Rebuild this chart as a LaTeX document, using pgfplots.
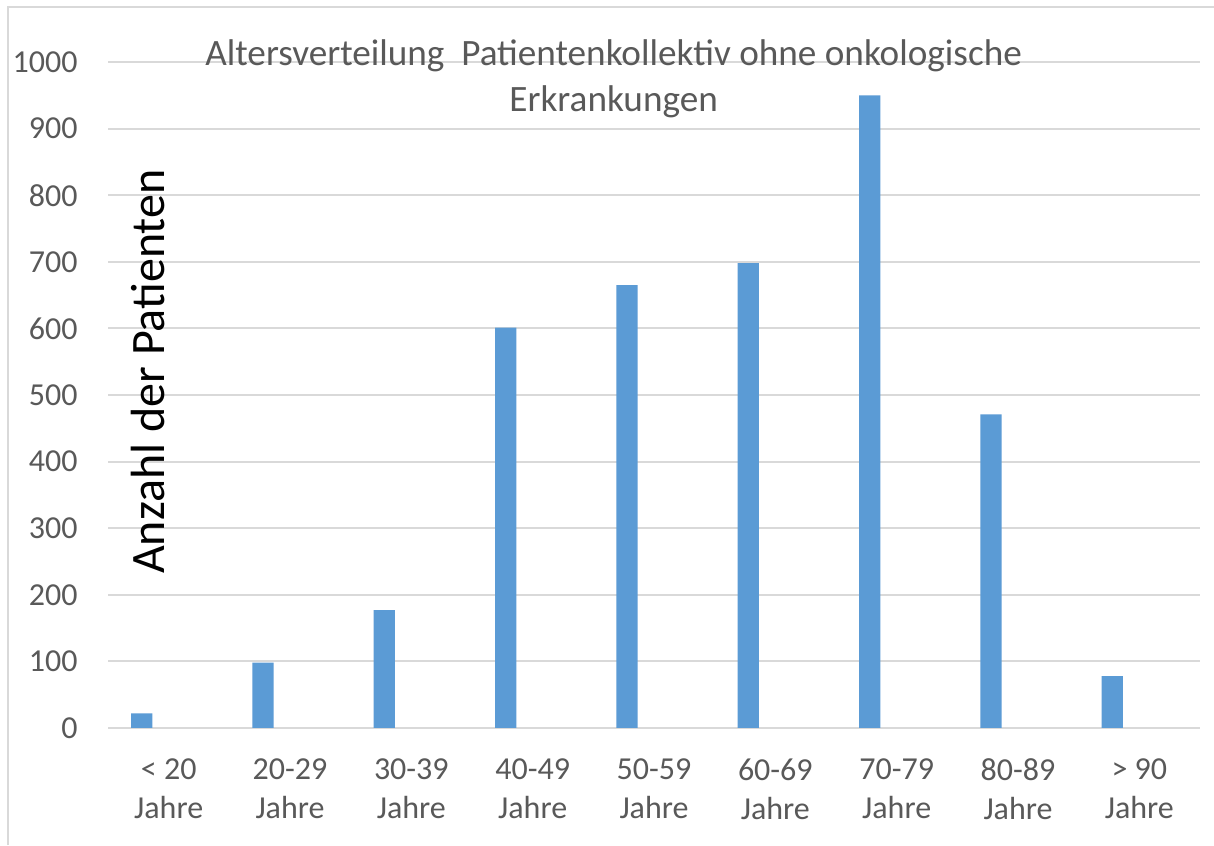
\documentclass[border=0pt]{standalone}
\usepackage{fontspec}
\setmainfont{Carlito}
\usepackage{pgfplots}
\pgfplotsset{compat=1.18}

\definecolor{barblue}{HTML}{5B9BD5}
\definecolor{txtgray}{HTML}{595959}
\definecolor{gridgray}{HTML}{D9D9D9}

\begin{document}
\begin{tikzpicture}
    % page: 1214x845 px at 0.5pt per px
    \path[use as bounding box] (0,0) rectangle (607pt,422.5pt);
    \fill[white] (0,0) rectangle (607pt,422.5pt);
    \draw[gridgray, line width=0.8pt] (4pt,0) -- (4pt,419pt) -- (607pt,419pt);

    \begin{axis}[
        at={(54pt,58.5pt)}, anchor=south west,
        scale only axis,
        width=546pt, height=333pt,
        xmin=-0.5, xmax=8.5,
        ymin=0, ymax=1000,
        ytick={0,100,...,1000},
        xtick={0,...,8},
        xticklabels={{< 20\\Jahre},{20-29\\Jahre},{30-39\\Jahre},{40-49\\Jahre},
            {50-59\\Jahre},{60-69\\Jahre},{70-79\\Jahre},{80-89\\Jahre},{> 90\\Jahre}},
        axis line style={draw=none},
        major tick length=0pt,
        ymajorgrids=true,
        grid style={gridgray, line width=1pt},
        /pgf/number format/assume math mode=true,
        /pgf/number format/1000 sep={},
        ticklabel style={font=\fontsize{16pt}{19.5pt}\selectfont, text=txtgray},
        yticklabel style={inner sep=0pt, xshift=-15pt},
        xticklabel style={inner sep=0pt, yshift=-15pt, align=center},
        title={Altersverteilung\ \ Patientenkollektiv ohne onkologische\\Erkrankungen},
        title style={at={(axis description cs:0.463,1.016)}, anchor=north,
            inner sep=0pt, align=center, text=txtgray,
            font=\fontsize{18.6pt}{23pt}\selectfont},
        ylabel={Anzahl der Patienten},
        ylabel style={at={(axis description cs:0.0366,0.535)}, anchor=center,
            inner sep=0pt, text=black, font=\fontsize{24pt}{28pt}\selectfont},
    ]
    \addplot[ybar, fill=barblue, draw=none, bar width=10.6pt, bar shift=-13.5pt]
        coordinates {
        (0,22)(1,98)(2,177)(3,601)(4,665)(5,698)(6,950)(7,471)(8,78)
        };
    \end{axis}
\end{tikzpicture}
\end{document}
